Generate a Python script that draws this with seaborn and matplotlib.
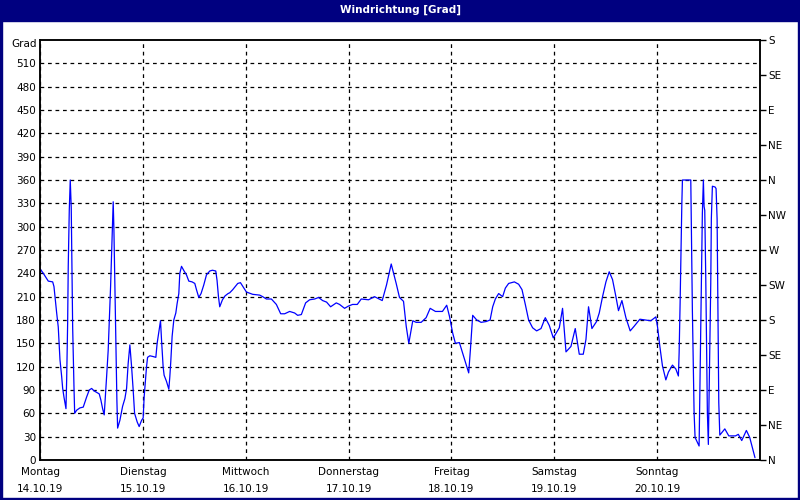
"""Wind direction over one week, recreated with seaborn."""

import numpy as np
import pandas as pd
import matplotlib
matplotlib.use("Agg")
import matplotlib.pyplot as plt
import seaborn as sns
from matplotlib.patches import Rectangle

# hours since Monday 00:00 and wind direction in degrees
hours = [
    0.00, 0.77, 1.93, 2.96, 3.26, 3.50, 3.89, 4.26, 4.66, 5.06, 5.29, 5.59, 6.06,
    6.22, 6.45, 6.59, 6.83, 7.06, 7.29, 7.46, 7.62, 7.92, 8.09, 8.55, 9.32, 10.09,
    10.88, 11.49, 12.05, 12.58, 13.21, 13.82, 14.21, 14.61, 14.98, 15.31, 15.54,
    15.91, 16.15, 16.47, 16.71, 16.94, 17.08, 17.24, 17.48, 17.71, 17.94, 18.11,
    18.64, 19.27, 19.81, 20.20, 20.57, 20.97,
    21.37, 21.74, 22.07, 22.67, 23.14, 23.70, 24.07, 24.30, 24.63, 24.86, 25.10,
    25.63, 26.40, 27.03, 27.33, 27.80, 28.12, 28.36, 28.73, 28.96, 29.52, 30.06,
    30.29, 30.52, 30.83, 31.22, 31.69, 31.99, 32.39, 32.62, 33.02, 33.62, 34.18,
    34.72, 35.49, 36.12, 36.51, 37.05, 37.58, 38.21, 38.84, 39.61, 40.24, 41.01,
    41.31, 41.64, 41.94, 42.57, 43.18, 43.88, 44.27,
    44.97, 46.14, 46.77, 48.16, 49.63, 51.26, 51.96, 52.82, 53.99, 55.15, 56.16,
    57.09, 58.25, 59.42, 60.12, 60.98, 61.98, 62.91, 64.08, 65.01, 65.94, 66.87,
    67.81, 69.13, 69.90, 71.07, 72.00, 72.93, 74.03, 74.96, 76.66, 78.06, 79.85,
    80.85, 81.95, 83.11, 83.88,
    84.82, 85.45, 86.05, 86.98, 87.77, 88.94, 90.10, 91.04, 92.27, 93.90, 94.90,
    95.53, 96.30, 96.93, 97.86, 98.80, 99.42, 100.03, 100.43, 100.96, 101.90,
    102.92, 104.09, 105.02, 105.63, 106.25, 107.02, 107.95, 108.58, 109.35,
    110.68, 111.68, 112.47, 113.24, 114.01, 114.94, 115.88, 116.90, 117.90,
    118.83, 119.77, 120.54, 121.17, 121.93, 122.73, 123.89, 124.89, 125.83,
    126.76, 127.39, 127.99, 128.78, 129.86, 130.49, 131.26, 132.05, 132.82,
    133.59, 134.38, 134.98, 135.78, 136.71, 137.71, 138.64, 139.97, 141.20,
    142.53, 143.70, 144.07, 144.63, 145.24, 146.03, 146.63, 147.57, 148.36,
    148.96, 149.13, 149.36, 149.76, 149.90, 151.85, 151.92, 152.22, 152.62,
    152.85, 153.79, 154.55, 154.79, 154.95, 155.11, 155.35, 155.72, 155.95,
    156.51, 156.65, 156.89, 157.51, 157.75, 157.99, 158.38, 158.62, 159.79,
    160.72, 162.28, 162.94, 163.74, 164.82, 165.60, 166.83,
]
direction = [
    246, 240, 230, 229, 223, 210, 189, 171, 129, 107, 92, 81, 66,
    103, 176, 249, 321, 360, 324, 249, 171, 96, 60, 64, 67, 68,
    81, 90, 92, 89, 87, 85, 77, 66, 58, 86, 107,
    141, 176, 223, 266, 311, 332, 298, 223, 150, 77, 41,
    51, 69, 79, 92, 124, 148,
    120, 90, 60, 49, 43, 51, 54, 81, 103, 120, 132,
    134, 133, 132, 150, 167, 179, 154, 120, 109, 101, 91,
    107, 127, 159, 180, 189, 201, 214, 240, 249, 243, 238,
    230, 229, 227, 219, 209, 214, 225, 238, 243, 244, 243,
    231, 210, 197, 206, 211, 214, 215,
    219, 227, 228, 216, 213, 212, 210, 207, 207, 200, 188,
    188, 191, 189, 186, 187, 202, 206, 207, 209, 205, 203,
    197, 202, 200, 195, 198, 200, 200, 207, 206, 210, 205,
    225, 252, 227, 209,
    204, 172, 150, 179, 177, 177, 183, 195, 191, 191, 199,
    185, 163, 150, 151, 134, 123, 112, 142, 186, 180,
    177, 178, 180, 197, 207, 214, 210, 221, 227,
    229, 226, 219, 200, 180, 170, 166, 169, 183,
    173, 157, 164, 170, 195, 139, 146, 169, 136,
    136, 155, 197, 169, 178, 189, 210, 229, 242,
    232, 210, 192, 205, 183, 166, 172, 181, 180,
    179, 184, 172, 146, 121, 103, 113, 122, 117,
    108, 138, 202, 329, 360, 360, 329, 193, 61,
    29, 18, 317, 360, 326, 321, 232, 61, 20,
    227, 311, 352, 351, 349, 310, 74, 32, 40,
    31, 31, 33, 25, 38, 29, 3,
]

day_names = ["Montag", "Dienstag", "Mittwoch", "Donnerstag", "Freitag", "Samstag", "Sonntag"]
day_dates = ["14.10.19", "15.10.19", "16.10.19", "17.10.19", "18.10.19", "19.10.19", "20.10.19"]
day_hours = [0, 24, 48, 72, 96, 120, 144]
grad_ticks = list(range(0, 511, 30))
compass_ticks = list(range(0, 541, 45))
compass_labels = ["N", "NE", "E", "SE", "S", "SW", "W", "NW", "N", "NE", "E", "SE", "S"]

NAVY = "#000080"

sns.set_style("white")
plt.rcParams["font.family"] = ["DejaVu Sans"]
plt.rcParams["font.size"] = 7.5
plt.rcParams["text.color"] = "black"
plt.rcParams["xtick.color"] = "black"
plt.rcParams["ytick.color"] = "black"
plt.rcParams["xtick.labelcolor"] = "black"
plt.rcParams["ytick.labelcolor"] = "black"

df = pd.DataFrame({"Stunde": hours, "Grad": direction})

fig = plt.figure(figsize=(8, 5), dpi=100)
ax = fig.add_axes([0.05, 0.08, 0.90, 0.84])
sns.lineplot(data=df, x="Stunde", y="Grad", ax=ax, color="#0000ff", linewidth=0.9)

ax.set_xlim(0, 168)
ax.set_ylim(0, 540)
ax.set_xlabel("")
ax.set_ylabel("")

ax.set_xticks(day_hours)
ax.set_xticklabels([f"{n}\n{d}" for n, d in zip(day_names, day_dates)], linespacing=1.9)
ax.set_yticks(grad_ticks)
ax.set_yticklabels([str(t) for t in grad_ticks])
ax.tick_params(axis="both", length=0, colors="black", labelcolor="black", labelsize=7.5)
ax.tick_params(axis="x", pad=5)
ax.tick_params(axis="y", pad=3)
ax.text(-0.004, 535, "Grad", transform=ax.get_yaxis_transform(),
        ha="right", va="center", fontsize=7.5, color="black")

ax.grid(True, color="black", linestyle=(0, (3, 3)), linewidth=0.9)
for s in ax.spines.values():
    s.set_color("black")
    s.set_linewidth(1.1)

ax2 = ax.twinx()
ax2.set_ylim(0, 540)
ax2.set_yticks(compass_ticks)
ax2.set_yticklabels(compass_labels)
ax2.tick_params(axis="y", length=4, width=1, direction="out", pad=2, labelsize=7.5,
                colors="black", labelcolor="black")
for s in ax2.spines.values():
    s.set_color("black")
    s.set_linewidth(1.1)

# title bar and window frame
fig.patches.append(Rectangle((0, 1 - 21 / 500), 1, 21 / 500, transform=fig.transFigure,
                             color=NAVY, zorder=0))
fig.patches.append(Rectangle((0, 0), 2 / 800, 1, transform=fig.transFigure, color=NAVY))
fig.patches.append(Rectangle((1 - 2 / 800, 0), 2 / 800, 1, transform=fig.transFigure, color=NAVY))
fig.patches.append(Rectangle((0, 0), 1, 2 / 500, transform=fig.transFigure, color=NAVY))
fig.text(0.5, 1 - 10 / 500, "Windrichtung [Grad]", color="white", fontweight="bold",
         ha="center", va="center", fontsize=7.5)

plt.savefig("out.png", dpi=100)
plt.close()
